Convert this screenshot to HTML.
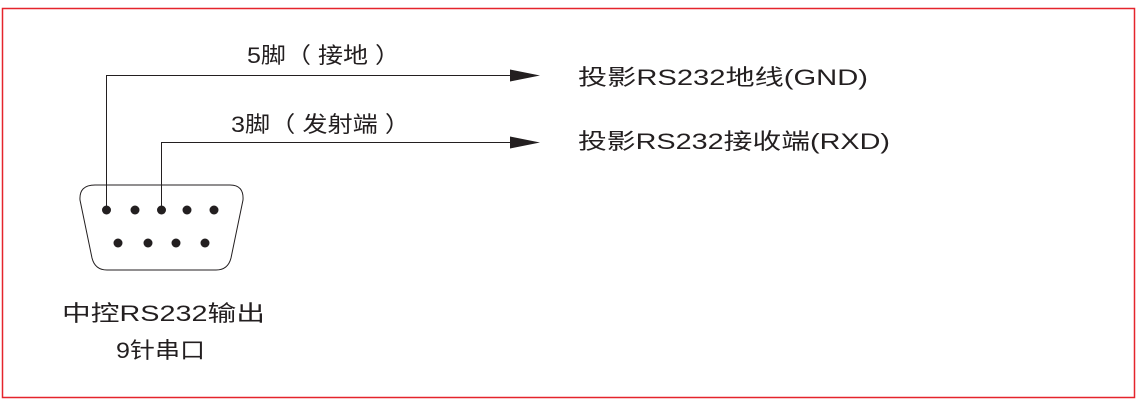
<!DOCTYPE html>
<html><head><meta charset="utf-8"><style>
html,body{margin:0;padding:0;background:#fff;}
svg{display:block;}
text{font-family:"Liberation Sans","Noto Sans CJK SC",sans-serif;fill:#231f20;font-size:22px;}
</style></head><body>
<svg width="1142" height="404" viewBox="0 0 1142 404" xmlns="http://www.w3.org/2000/svg">
<rect x="2.5" y="8.5" width="1132" height="389" fill="none" stroke="#e5242c" stroke-width="1.5"/>
<g stroke="#231f20" stroke-width="1" fill="none">
<polyline points="106.5,210 106.5,75.5 512,75.5"/>
<polyline points="161.5,210 161.5,142.5 512,142.5"/>
<path d="M95,185 L230,185 Q244,185 243,200 L231,258 Q228,270 216,270 L107,270 Q95,270 92,258 L80,200 Q79,185 95,185 Z"/>
</g>
<polygon points="510,69.5 540,75.5 510,81.5" fill="#231f20"/>
<polygon points="510,136.5 540,142.5 510,148.5" fill="#231f20"/>
<g fill="#231f20">
<circle cx="106.5" cy="210" r="4.5"/><circle cx="135" cy="210" r="4.5"/><circle cx="161.5" cy="210" r="4.5"/><circle cx="187" cy="210" r="4.5"/><circle cx="214" cy="210" r="4.5"/>
<circle cx="118" cy="243" r="4.5"/><circle cx="148" cy="243" r="4.5"/><circle cx="176" cy="243" r="4.5"/><circle cx="205" cy="243" r="4.5"/>
</g>
<text x="247" y="63" textLength="153" lengthAdjust="spacingAndGlyphs">5脚（ 接地 ）</text>
<text x="231" y="132" textLength="179" lengthAdjust="spacingAndGlyphs">3脚（ 发射端 ）</text>
<text x="578" y="85" textLength="290" lengthAdjust="spacingAndGlyphs">投影RS232地线(GND)</text>
<text x="578" y="149" textLength="312" lengthAdjust="spacingAndGlyphs">投影RS232接收端(RXD)</text>
<text x="62" y="321" textLength="203" lengthAdjust="spacingAndGlyphs">中控RS232输出</text>
<text x="116" y="358" textLength="89" lengthAdjust="spacingAndGlyphs">9针串口</text>
</svg>
</body></html>
